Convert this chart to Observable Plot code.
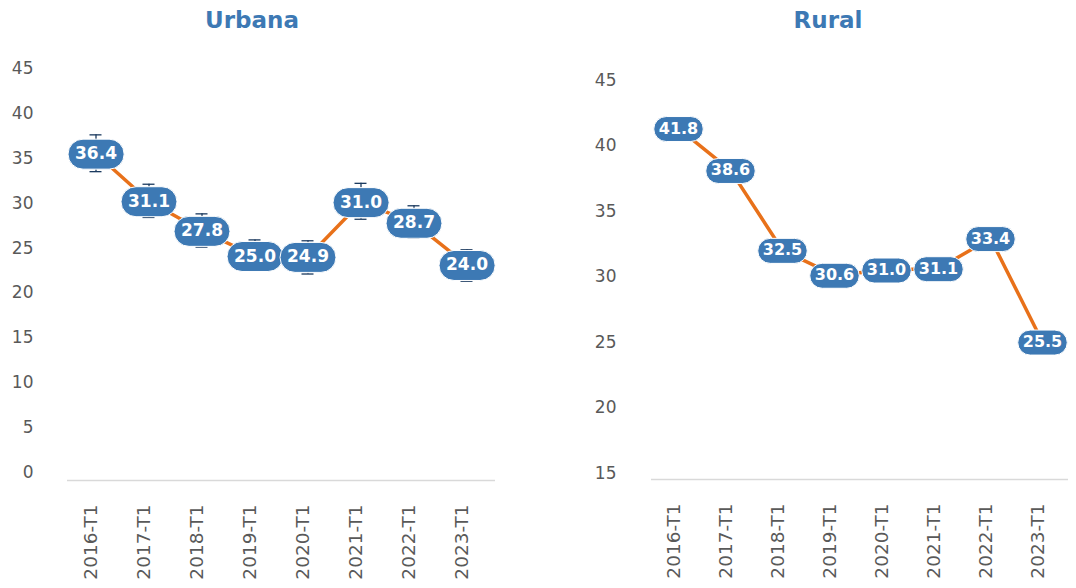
<!DOCTYPE html>
<html>
<head>
<meta charset="utf-8">
<script src="https://cdn.jsdelivr.net/npm/d3@7"></script>
<script src="https://cdn.jsdelivr.net/npm/@observablehq/plot@0.6"></script>
<style>
  html, body { margin: 0; padding: 0; background: #fff; }
  #wrap { display: flex; width: 1076px; height: 588px; overflow: hidden; }
  .panel { position: relative; }
  .title { height: 40px; line-height: 40px; text-align: center; font-family: "DejaVu Sans", sans-serif;
           font-weight: 700; font-size: 23px; color: #3d79b4; }
  svg { display: block; overflow: visible; }
</style>
</head>
<body>
<div id="wrap">
  <div class="panel" id="left" style="width:540px"><div class="title" style="padding-right:36px">Urbana</div></div>
  <div class="panel" id="right" style="width:536px"><div class="title" style="padding-left:40px">Rural</div></div>
</div>
<script>
const categories = ["2016-T1", "2017-T1", "2018-T1", "2019-T1", "2020-T1", "2021-T1", "2022-T1", "2023-T1"];
const urbanaValues = [36.4, 31.1, 27.8, 25.0, 24.9, 31.0, 28.7, 24.0];
const urbanaLow = [34.4, 29.3, 26.0, 23.3, 23.0, 29.1, 27.0, 22.2];
const urbanaHigh = [38.5, 33.0, 29.7, 26.8, 26.7, 33.1, 30.6, 25.7];
const ruralValues = [41.8, 38.6, 32.5, 30.6, 31.0, 31.1, 33.4, 25.5];
const urbanaTicks = [0, 5, 10, 15, 20, 25, 30, 35, 40, 45];
const ruralTicks = [15, 20, 25, 30, 35, 40, 45];

const FONT = "'DejaVu Sans', sans-serif";
const BLUE = "#3d79b4";
const ORANGE = "#e8711a";
const NAVY = "#1b3a5f";
const GREY = "#595959";

const urbana = categories.map((c, i) => ({cat: c, v: urbanaValues[i], lo: urbanaLow[i], hi: urbanaHigh[i]}));
const rural = categories.map((c, i) => ({cat: c, v: ruralValues[i]}));

function panel({data, ticks, domain, width, marginTop, marginBottom, marginLeft, marginRight, tickPad, tickDy, errors, labelSize}) {
  const marks = [
    Plot.ruleY([domain[0]], {stroke: "#d9d9d9", strokeWidth: 1.5}),
    Plot.text(ticks, {y: d => d, text: d => String(d), frameAnchor: "left", dx: -tickPad, dy: tickDy,
                      textAnchor: "end", fill: GREY, fontSize: 17}),
    Plot.text(categories, {x: d => d, text: d => d, frameAnchor: "bottom", dy: 24, dx: 1, rotate: -90,
                           textAnchor: "end", fill: GREY, fontSize: 18.5}),
    Plot.line(data, {x: "cat", y: "v", stroke: ORANGE, strokeWidth: 3.5})
  ];
  if (errors) {
    marks.push(
      Plot.ruleX(data, {x: "cat", y1: "lo", y2: "hi", stroke: NAVY, strokeWidth: 1.3}),
      Plot.tickY(data, {x: "cat", y: "lo", stroke: NAVY, strokeWidth: 1.3, insetLeft: 20.5, insetRight: 20.5}),
      Plot.tickY(data, {x: "cat", y: "hi", stroke: NAVY, strokeWidth: 1.3, insetLeft: 20.5, insetRight: 20.5})
    );
  }
  marks.push(Plot.text(data, {x: "cat", y: "v", text: d => d.v.toFixed(1), fill: "#fff",
                               fontSize: labelSize, fontWeight: 700, ariaDescription: "pill-labels"}));
  return Plot.plot({
    width, height: 548, marginTop, marginBottom, marginLeft, marginRight,
    style: {fontFamily: FONT, fontSize: "17px", color: GREY, background: "transparent", overflow: "visible"},
    x: {type: "band", domain: categories, padding: 0, axis: null},
    y: {domain, axis: null},
    marks
  });
}

function addPills(svg, padX, h) {
  const ns = "http://www.w3.org/2000/svg";
  let g = svg.querySelector('g[aria-description="pill-labels"]');
  if (!g) {
    const gs = svg.querySelectorAll('g[aria-label="text"]');
    g = gs[gs.length - 1];
  }
  if (!g) return;
  g.querySelectorAll("text").forEach(t => {
    const b = t.getBBox();
    const w = b.width + 2 * padX;
    const cx = b.x + b.width / 2;
    const cy = b.y + b.height / 2 + 1;
    const r = document.createElementNS(ns, "rect");
    r.setAttribute("x", cx - w / 2);
    r.setAttribute("y", cy - h / 2);
    r.setAttribute("width", w);
    r.setAttribute("height", h);
    r.setAttribute("rx", h / 2);
    r.setAttribute("ry", h / 2);
    r.setAttribute("fill", BLUE);
    r.setAttribute("stroke", "#fff");
    r.setAttribute("stroke-width", "1");
    const tr = t.getAttribute("transform");
    if (tr) r.setAttribute("transform", tr);
    g.insertBefore(r, t);
  });
}

const left = panel({data: urbana, ticks: urbanaTicks, domain: [0, 45], width: 540,
  marginTop: 36, marginBottom: 108, marginLeft: 67, marginRight: 45, tickPad: 34, tickDy: -8, errors: true, labelSize: 17});
const right = panel({data: rural, ticks: ruralTicks, domain: [15, 45], width: 536,
  marginTop: 46, marginBottom: 109, marginLeft: 111, marginRight: 8, tickPad: 35, tickDy: -6, errors: false, labelSize: 16});
document.getElementById("left").appendChild(left);
document.getElementById("right").appendChild(right);
addPills(left, 7, 30);
addPills(right, 5, 25);
</script>
</body>
</html>
